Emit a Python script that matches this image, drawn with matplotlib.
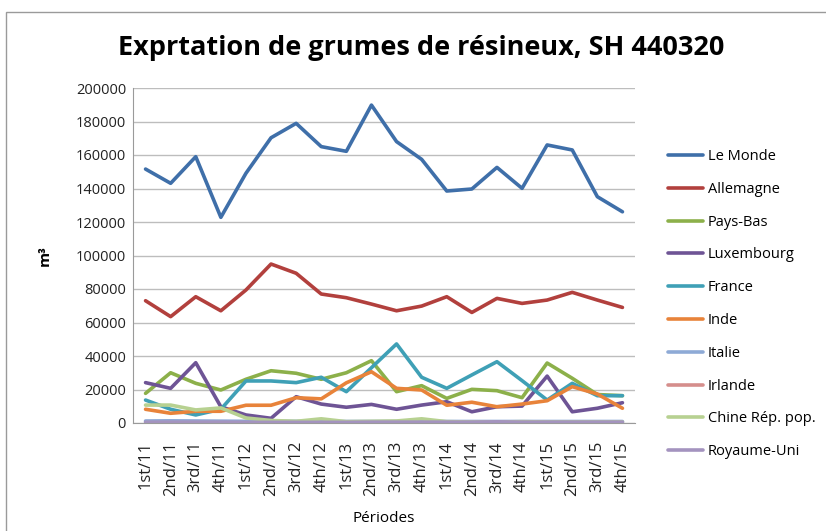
import numpy as np
import matplotlib
matplotlib.use("Agg")
import matplotlib.pyplot as plt

plt.rcParams['font.family'] = ['Open Sans', 'DejaVu Sans']

periods = ["1st/11", "2nd/11", "3rd/11", "4th/11",
           "1st/12", "2nd/12", "3rd/12", "4th/12",
           "1st/13", "2nd/13", "3rd/13", "4th/13",
           "1st/14", "2nd/14", "3rd/14", "4th/14",
           "1st/15", "2nd/15", "3rd/15", "4th/15"]

le_monde = [151600, 143100, 159000, 122800, 149100, 170300, 178900, 165000, 162200, 189800,
            168000, 157400, 138500, 139700, 152600, 140100, 166000, 163000, 135100, 126100]
allemagne = [73000, 63500, 75400, 67000, 79400, 94900, 89400, 77000, 74800, 71000,
             67000, 69800, 75400, 66000, 74400, 71400, 73400, 78000, 73400, 69000]
pays_bas = [17700, 30000, 23700, 19700, 26100, 31200, 29700, 26100, 30000, 37200,
            18700, 22300, 14700, 20100, 19300, 15100, 35800, 26700, 17000, 16300]
luxembourg = [24100, 20700, 36000, 9700, 4800, 2800, 15700, 11300, 9400, 11100,
              8200, 10700, 12700, 6700, 9700, 10100, 28000, 6700, 8800, 12100]
france = [13700, 8200, 4800, 8200, 25100, 25100, 24100, 27300, 18700, 33000,
          47200, 27300, 20700, 28700, 36600, 25300, 13700, 23700, 16300, 16300]
inde = [8200, 5800, 7000, 7000, 10600, 10600, 15100, 14400, 24000, 30600,
        20700, 19700, 10600, 12400, 9700, 11300, 13300, 21700, 17300, 8800]
italie = [1200, 1300, 1200, 1100, 1000, 1000, 1000, 900, 900, 900,
          900, 900, 900, 900, 900, 900, 900, 900, 900, 900]
irlande = [200, 200, 200, 200, 200, 200, 200, 200, 200, 200,
           200, 200, 200, 200, 200, 200, 200, 200, 200, 200]
chine = [10700, 10700, 7800, 9000, 3000, 1500, 1000, 2500, 800, 1000,
         1200, 2500, 800, 600, 600, 800, 600, 600, 600, 600]
royaume_uni = [500, 500, 500, 500, 400, 400, 400, 400, 400, 500,
               500, 500, 500, 500, 700, 500, 500, 500, 500, 500]

series = [
    ("Le Monde", le_monde, "#3f6fa9"),
    ("Allemagne", allemagne, "#b2403d"),
    ("Pays-Bas", pays_bas, "#8cb04a"),
    ("Luxembourg", luxembourg, "#6e5495"),
    ("France", france, "#3fa0b6"),
    ("Inde", inde, "#e8833a"),
    ("Italie", italie, "#8eaad6"),
    ("Irlande", irlande, "#d58e8c"),
    ("Chine Rép. pop.", chine, "#b7d191"),
    ("Royaume-Uni", royaume_uni, "#a493bf"),
]

fig = plt.figure(figsize=(8.26, 5.31), dpi=100)
ax = fig.add_axes([133 / 826, 1 - 423 / 531, (635 - 133) / 826, (423 - 88) / 531])

# chart area border
fig.patches.append(plt.Rectangle((6 / 826, -0.01), 1.0, 1 - 12 / 531 + 0.01,
                                 transform=fig.transFigure, fill=False,
                                 edgecolor="#9a9a9a", linewidth=1.0))

x = np.arange(len(periods))
for name, vals, col in series:
    ax.plot(x, vals, color=col, linewidth=2.6, label=name, solid_capstyle="round")

ax.set_xlim(-0.5, len(periods) - 0.5)
ax.set_ylim(0, 200000)
ax.set_yticks(np.arange(0, 200001, 20000))
ax.set_yticklabels([str(v) for v in range(0, 200001, 20000)], fontsize=10.5, color="#222222")
ax.set_xticks(x)
ax.set_xticklabels(periods, rotation=90, fontsize=12, color="#222222")
ax.tick_params(axis="y", length=0, pad=5)
ax.tick_params(axis="x", length=0, pad=13)
ax.grid(axis="y", color="#bdbdbd", linewidth=1.0)
ax.set_axisbelow(True)
for s in ["top", "right"]:
    ax.spines[s].set_visible(False)
ax.spines["left"].set_color("#9a9a9a")
ax.spines["bottom"].set_color("#9a9a9a")

ax.set_xlabel("Périodes", fontsize=11, labelpad=11)
ax.set_ylabel("m³", fontsize=11, fontweight="bold", labelpad=17)

fig.text(421 / 826, 1 - 48 / 531, "Exprtation de grumes de résineux, SH 440320",
         ha="center", va="center", fontsize=19.5, fontweight="bold")

leg = fig.legend(loc="upper left", bbox_to_anchor=(655 / 826, 1 - 136 / 531),
                 frameon=False, fontsize=10.5, handlelength=2.4, handletextpad=0.3,
                 labelspacing=1.22)

fig.savefig("out.png", dpi=100)
